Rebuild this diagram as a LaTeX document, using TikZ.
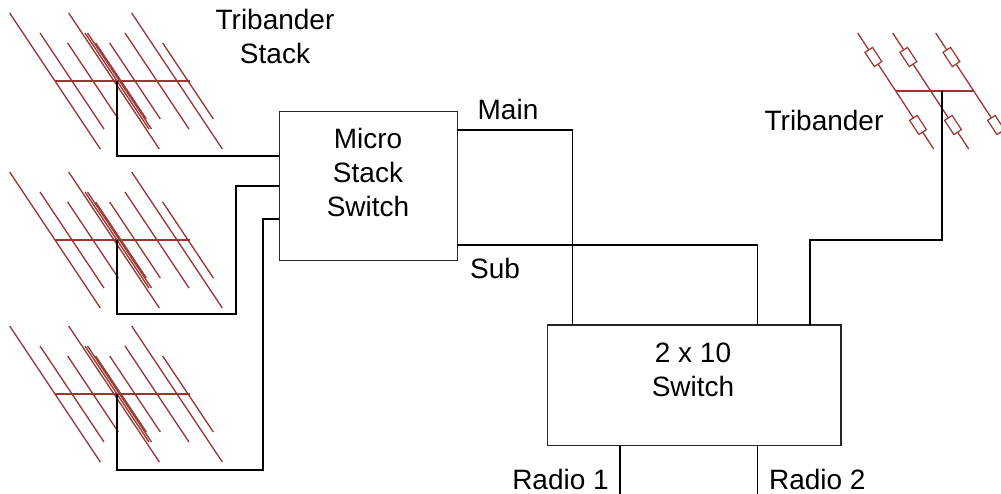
\documentclass[tikz,border=0pt]{standalone}
\usepackage{fontspec}
\setmainfont{Liberation Sans}
\usepackage{xcolor}
\usepackage{tikz}
\usetikzlibrary{calc}

\definecolor{antred}{RGB}{155,55,50}

\begin{document}
\begin{tikzpicture}[x=1pt, y=-1pt,
	box/.style={draw=black!85, line width=1.2pt, inner sep=0pt},
	lbl/.style={font=\fontsize{28}{34}\selectfont, inner sep=0pt, align=center},
	feeder/.style={draw=black, line width=1.8pt},
	wire/.style={draw=black, line width=1.3pt},
	element/.style={draw=antred, line width=1.3pt},
	boom/.style={draw=antred, line width=2pt},
	trap/.style={draw=antred, fill=white, line width=1.2pt, minimum width=17pt, minimum height=9pt, inner sep=0pt, rotate=-56.8}]
	\clip (0,0) rectangle (1001,493);

	% tribander stack, three antennas
	\foreach \n/\fy in {1/81,2/240,3/394} {
		\coordinate (feed\n) at (117,\fy);
		\begin{scope}[shift={(feed\n)}]
			\draw[boom] (-62,0) -- (73,0);
			\foreach \dx/\h in {-62/68,-45/48,-24/38,-3/68,0/48,2.5/48,4/38,18/38,40/48,60/68,71/38}
				\draw[element] ({\dx-\h/1.5},{-\h}) -- ({\dx+\h/1.5},{\h});
		\end{scope}
	}

	% single tribander
	\coordinate (feedT) at (941.7,91);
	\begin{scope}[shift={(feedT)}]
		\draw[boom] (-46,0) -- (32,0);
		\foreach \dx in {-46,-11,32}
			\draw[element] ({\dx-38},-58) -- ({\dx+38},58);
	\end{scope}
	\foreach \i/\dx in {1/-46,2/-11,3/32} {
		\node[trap] (trapT\i) at ($(feedT)+({\dx-22.3},-34)$) {};
		\node[trap] (trapB\i) at ($(feedT)+({\dx+22.3},34)$) {};
	}

	% boxes
	\node[box, minimum width=178pt, minimum height=149pt] (mss) at (368.3,186.2) {};
	\node[lbl] (msstext) at (368,172.2) {Micro\\Stack\\Switch};
	\node[box, minimum width=293.3pt, minimum height=120.7pt] (sw) at (694.3,385.3) {};
	\node[lbl] (swtext) at (693,370.3) {2 x 10\\Switch};

	% labels
	\node[lbl] (stacklbl) at (275,36.2) {Tribander\\Stack};
	\node[lbl, anchor=base] (mainlbl) at (508,119.3) {Main};
	\node[lbl, anchor=base] (sublbl) at (495,278.3) {Sub};
	\node[lbl, anchor=base] (trilbl) at (824,130) {Tribander};
	\node[lbl, anchor=base] (radio1) at (560.5,489.5) {Radio 1};
	\node[lbl, anchor=base] (radio2) at (817.3,489.5) {Radio 2};

	% ports
	\coordinate (mssin1) at (279.3,156);
	\coordinate (mssin2) at (279.3,186);
	\coordinate (mssin3) at (279.3,219);
	\coordinate (mainout) at (457.3,130);
	\coordinate (subout) at (457.3,245);
	\coordinate (swA) at (572.3,325);
	\coordinate (swB) at (757.7,325);
	\coordinate (swC) at (810,325);
	\coordinate (swR1) at (620,445.7);
	\coordinate (swR2) at (757.3,445.7);
	\coordinate (r1end) at (620,500);
	\coordinate (r2end) at (757.3,500);

	% feed lines
	\draw[feeder] (feed1) |- (mssin1);
	\draw[feeder] (feed2) |- (235.7,314) |- (mssin2);
	\draw[feeder] (feed3) |- (263,470) |- (mssin3);
	\draw[feeder] (feedT) |- (810,240) -- (swC);
	\draw[wire] (mainout) -| (swA);
	\draw[wire] (subout) -| (swB);
	\draw[wire] (swR1) -- (r1end);
	\draw[wire] (swR2) -- (r2end);
\end{tikzpicture}
\end{document}
